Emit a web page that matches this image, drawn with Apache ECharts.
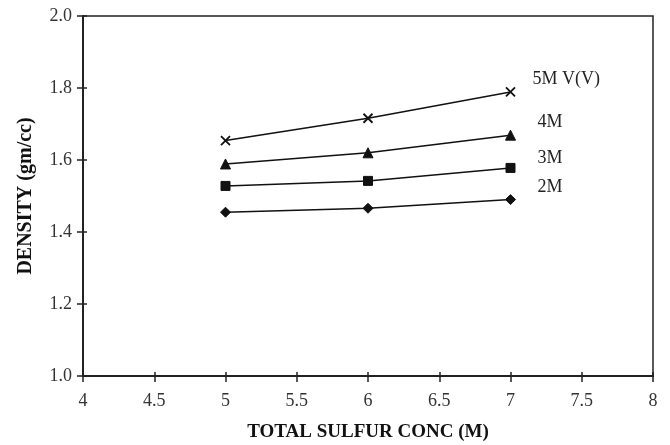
<!DOCTYPE html>
<html><head><meta charset="utf-8">
<script src="https://cdn.jsdelivr.net/npm/echarts@6/dist/echarts.min.js"></script>
<style>html,body{margin:0;padding:0;background:#fff}#c{width:670px;height:445px}</style>
</head><body><div id="c"></div>
<script>
const xValues = [5, 6, 7];
const seriesNames = ['5M V(V)', '4M', '3M', '2M'];
const v5M = [1.654, 1.716, 1.789];
const v4M = [1.589, 1.620, 1.669];
const v3M = [1.528, 1.542, 1.578];
const v2M = [1.455, 1.466, 1.490];
const xTicks = [4, 4.5, 5, 5.5, 6, 6.5, 7, 7.5, 8];
const yTicks = [1.0, 1.2, 1.4, 1.6, 1.8, 2.0];

const font = '"Liberation Serif", "Times New Roman", serif';
const X_PATH = 'path://M0,0 L10,10 M10,0 L0,10';
const symbols = [X_PATH, 'triangle', 'rect', 'diamond'];
const symSizes = [9, 10, 9, 10];
const labelOffsets = [[14, -13], [19, -13], [19, -10], [19, -12]];
const allVals = [v5M, v4M, v3M, v2M];

const chart = echarts.init(document.getElementById('c'), null, {renderer: 'canvas'});
const lineCol = '#222';
function baseAxis(extra) {
  return Object.assign({
    type: 'value',
    axisLine: {show: true, onZero: false, lineStyle: {color: lineCol, width: 2}},
    axisTick: {show: true, inside: false, length: 6, lineStyle: {color: lineCol, width: 1.5}},
    splitLine: {show: false}
  }, extra);
}
const xMin = xTicks[0], xMax = xTicks[xTicks.length - 1];
const yMin = yTicks[0], yMax = yTicks[yTicks.length - 1];
chart.setOption({
  animation: false,
  grid: {left: 83, right: 17, top: 16, bottom: 69, outerBoundsMode: 'none', containLabel: false,
         show: true, borderColor: lineCol, borderWidth: 1.5},
  xAxis: [
    baseAxis({
      min: xMin, max: xMax, interval: 0.5, position: 'bottom',
      name: 'TOTAL SULFUR CONC (M)', nameLocation: 'middle', nameGap: 47,
      nameTextStyle: {fontFamily: font, fontSize: 19, fontWeight: 'bold', color: '#111'},
      axisLabel: {color: '#333', fontFamily: font, fontSize: 18, margin: 16}
    }),
    baseAxis({
      min: xMin, max: xMax, interval: 0.5, position: 'bottom',
      axisTick: {show: true, inside: true, length: 4, lineStyle: {color: lineCol, width: 1.5}},
      axisLabel: {show: false}
    })
  ],
  yAxis: [
    baseAxis({
      min: yMin, max: yMax, interval: 0.2, position: 'left',
      name: 'DENSITY (gm/cc)', nameLocation: 'middle', nameGap: 47,
      nameTextStyle: {fontFamily: font, fontSize: 20, fontWeight: 'bold', color: '#111'},
      axisLabel: {color: '#333', fontFamily: font, fontSize: 18, margin: 11, formatter: v => v.toFixed(1)}
    }),
    baseAxis({
      min: yMin, max: yMax, interval: 0.2, position: 'left', offset: 0,
      axisTick: {show: true, inside: true, length: 4, lineStyle: {color: lineCol, width: 1.5}},
      axisLabel: {show: false}
    })
  ],
  series: seriesNames.map((name, i) => ({
    name: name, type: 'line', xAxisIndex: 0, yAxisIndex: 0,
    data: xValues.map((x, j) => [x, allVals[i][j]]),
    symbol: symbols[i], symbolSize: symSizes[i], showAllSymbol: true,
    lineStyle: {color: '#111', width: 1.5},
    itemStyle: i === 0 ? {color: '#fff', borderColor: '#111', borderWidth: 1.8} : {color: '#111', borderColor: '#111'},
    endLabel: {show: true, formatter: name, offset: labelOffsets[i], fontFamily: font, fontSize: 18, color: '#222'}
  }))
});
</script></body></html>
